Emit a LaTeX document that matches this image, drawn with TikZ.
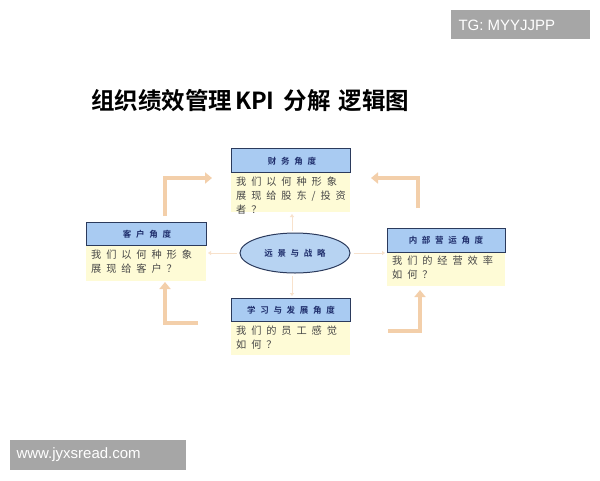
\documentclass[tikz,border=0pt]{standalone}
\usepackage{fontspec}
\usetikzlibrary{arrows.meta,shapes.geometric}
\newfontfamily\cjk{Noto Sans CJK SC}
\newfontfamily\cjkb{Noto Sans CJK SC Bold}
\newfontfamily\cjkbody[LetterSpace=48]{Noto Sans CJK SC}
\newfontfamily\cjkhead[LetterSpace=55]{Noto Sans CJK SC Bold}
\setmainfont{Liberation Sans}
\definecolor{hdblue}{HTML}{A9CBF2}
\definecolor{hdline}{HTML}{2B3A5C}
\definecolor{hdtext}{HTML}{1E2D6B}
\definecolor{bodyy}{HTML}{FEFBD6}
\definecolor{tan}{HTML}{F3CFAA}
\definecolor{wmgray}{HTML}{A6A6A6}
\definecolor{elfill}{HTML}{B7D3F2}
\begin{document}
\begin{tikzpicture}[x=1pt,y=-1pt,
  hdbox/.style={draw=hdline,line width=1pt,fill=hdblue},
  bodybox/.style={fill=bodyy,draw=none},
  hdlabel/.style={font=\cjkhead\fontsize{8.5}{9}\selectfont,text=hdtext},
  bodylabel/.style={font=\cjkbody\fontsize{10.2}{14}\selectfont,text=black!72,align=left,anchor=north west,inner sep=0pt},
  cornerarrow/.style={draw=tan,line width=3.5pt,-{Triangle[length=7pt,width=11pt]}},
  smallarrow/.style={draw=tan!60,line width=1pt,-{Triangle[length=3pt,width=4pt]}},
  wm/.style={fill=wmgray,text=white,font=\fontsize{15}{16}\selectfont,inner sep=0pt}
]
\useasboundingbox (0,0) rectangle (600,480);
\fill[white] (0,0) rectangle (600,480);

% watermarks
\fill[wmgray] (451,10) rectangle (590,39);
\node[text=white,font=\fontsize{15}{16}\selectfont,anchor=west] (wm1) at (455,25) {TG: MYYJJPP};
\fill[wmgray] (10,440) rectangle (186,470);
\node[text=white,font=\fontsize{15}{16}\selectfont,anchor=west] (wm2) at (13,455) {www.jyxsread.com};

% title
\node[anchor=west,font=\cjkb\fontsize{23.5}{25}\selectfont,inner sep=0pt] (title) at (91,101) {组织绩效管理\hspace{3pt}KPI\hspace{9pt}分解\hspace{8pt}逻辑图};

% top box
\fill[bodybox] (231,172) rectangle (350,212);
\draw[hdbox] (231,148) rectangle (350,172);
\node[hdlabel] (h1) at (292,161) {财务角度};
\node[bodylabel] (b1) at (236,177) {我们以何种形象\\展现给股东/投资\\者？};
\coordinate (t1) at (292,214);

% left box
\fill[bodybox] (86,245) rectangle (206,281);
\draw[hdbox] (86,222) rectangle (206,245);
\node[hdlabel] (h2) at (147,234) {客户角度};
\node[bodylabel] (b2) at (91,250) {我们以何种形象\\展现给客户？};
\coordinate (t2) at (208,253);

% right box
\fill[bodybox] (387,252) rectangle (505,286);
\draw[hdbox] (387,228) rectangle (505,252);
\node[hdlabel] (h3) at (446,240) {内部营运角度};
\node[bodylabel] (b3) at (392,256) {我们的经营效率\\如何？};
\coordinate (t3) at (385,253);

% bottom box
\fill[bodybox] (231,321) rectangle (350,355);
\draw[hdbox] (231,298) rectangle (350,321);
\node[hdlabel] (h4) at (291,310) {学习与发展角度};
\node[bodylabel] (b4) at (236,326) {我们的员工感觉\\如何？};
\coordinate (t4) at (292,296);

% ellipse
\node[ellipse,draw=hdline,line width=1pt,fill=elfill,minimum width=110pt,minimum height=40pt,inner sep=0pt,font=\cjkhead\fontsize{8.5}{9}\selectfont,text=hdtext] (vis) at (295,253) {远景与战略};

% small arrows from vision to boxes
\draw[smallarrow] (vis.north) ++(-3,-2) coordinate (v1) (v1) -- (t1);
\draw[smallarrow] (vis.west) ++(-3,0) coordinate (v2) (v2) -- (t2);
\draw[smallarrow] (vis.east) ++(3,0) coordinate (v3) (v3) -- (t3);
\draw[smallarrow] (vis.south) ++(-3,2) coordinate (v4) (v4) -- (t4);

% corner arrows
\coordinate (a1s) at (165,216); \coordinate (a1e) at (212,178);
\draw[cornerarrow] (a1s) |- (a1e);
\coordinate (a2s) at (418,208); \coordinate (a2e) at (371,178);
\draw[cornerarrow] (a2s) |- (a2e);
\coordinate (a3s) at (198,323); \coordinate (a3e) at (165,282);
\draw[cornerarrow] (a3s) -| (a3e);
\coordinate (a4s) at (388,331); \coordinate (a4e) at (420,290);
\draw[cornerarrow] (a4s) -| (a4e);
\end{tikzpicture}
\end{document}
